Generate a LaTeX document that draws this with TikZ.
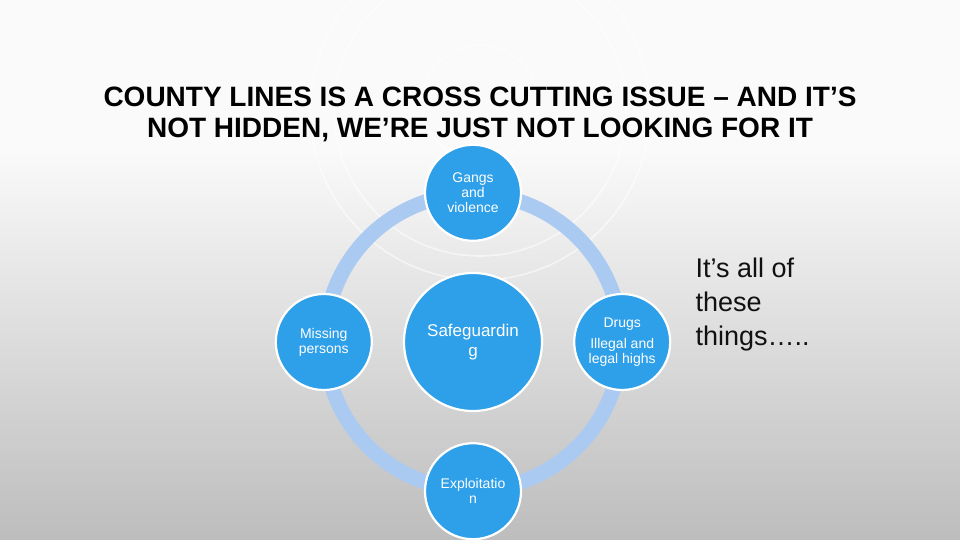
\documentclass[tikz,border=0pt]{standalone}
\usepackage{fontspec}
\setmainfont{Liberation Sans}
\usepackage{tikz}
\usepackage{xcolor}
\usetikzlibrary{positioning,calc}
\definecolor{bgtop}{HTML}{FAFAFA}
\definecolor{bgbottom}{HTML}{BDBDBD}
\definecolor{topicblue}{HTML}{2E9FE9}
\definecolor{ringblue}{HTML}{ABCAF1}
\definecolor{ink}{HTML}{111111}
\tikzset{
  topic/.style={circle,draw=white,fill=topicblue,line width=2.2pt,
                minimum size=96pt,inner sep=0pt,align=center,text=white,
                font=\fontsize{14}{15}\selectfont},
  hubtopic/.style={topic,minimum size=138pt,
                   font=\fontsize{17}{20}\selectfont},
  ringline/.style={draw=ringblue,line width=15pt},
  faintring/.style={draw=white,line width=1.6pt,opacity=0.55}
}
\begin{document}
\begin{tikzpicture}[x=1pt,y=-1pt]
    \path[use as bounding box] (0,0) rectangle (960,540);
    % background
    \fill[bgtop] (0,0) rectangle (960,150);
    \shade[top color=bgtop,bottom color=bgbottom] (0,149) rectangle (960,540);
    \draw[faintring] (480,103) circle[radius=58];
    \draw[faintring] (480,110) circle[radius=146];
    \draw[faintring] (480,110) circle[radius=170];
    % title
    \node[font=\fontsize{28}{31}\selectfont\bfseries,text=black,align=center]
      (title) at (480,114)
      {COUNTY LINES IS A CROSS CUTTING ISSUE -- AND IT'S\\
       NOT HIDDEN, WE'RE JUST NOT LOOKING FOR IT};
    % cycle
    \coordinate (hub) at (473,342);
    \draw[ringline] (hub) circle[radius=148];
    \node[hubtopic] (safe) at (hub) {Safeguardin\\g};
    \node[topic,above=30pt of safe] (gangs) {Gangs\\and\\violence};
    \node[topic,below=30pt of safe] (exploit) {Exploitatio\\n};
    \node[topic,left=30pt of safe] (missing) {Missing\\persons};
    \node[topic,right=30pt of safe] (drugs)
      {Drugs\\[6pt]Illegal and\\legal highs};
    % side note
    \node[font=\fontsize{27}{34}\selectfont,text=ink,align=left,anchor=west]
      (note) at (692,305) {It's all of\\these\\things\ldots..};
  \end{tikzpicture}
\end{document}
